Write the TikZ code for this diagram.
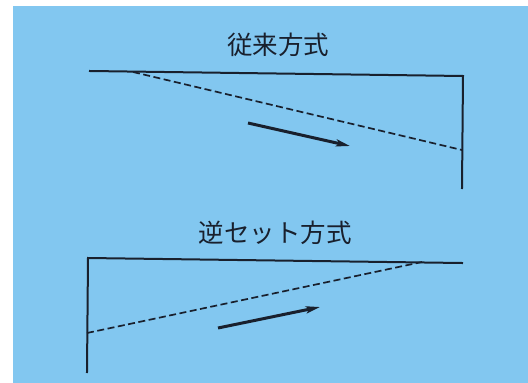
\documentclass[tikz,border=0pt]{standalone}
\usepackage{fontspec}
\newfontfamily\jp{Noto Sans CJK JP}
\usetikzlibrary{arrows.meta}
\definecolor{bg}{RGB}{130,199,240}
\definecolor{ink}{RGB}{25,32,45}
\tikzset{
  frame/.style={draw=ink, line width=2pt, line cap=rect, line join=miter},
  guide/.style={draw=ink, line width=1.7pt, dash pattern=on 7pt off 3.5pt},
  motion/.style={draw=ink, line width=3pt, -{Stealth[length=14pt,width=7pt,inset=3pt]}},
  title/.style={text=ink, font=\jp\fontsize{25.5pt}{30pt}\selectfont, inner sep=0pt}
}
\begin{document}
\begin{tikzpicture}[x=1pt,y=-1pt]
\useasboundingbox (0,0) rectangle (528,383);
\fill[white] (0,0) rectangle (528,383);
\fill[bg] (13,6) rectangle (528,383);
% top diagram
\node[title] (t1) at (278,45) {従来方式};
\coordinate (a1) at (90,71);
\coordinate (a2) at (463,76);
\coordinate (a3) at (462,188);
\coordinate (d1) at (133,72);
\coordinate (d2) at (462,150);
\coordinate (m1) at (248,123);
\coordinate (m2) at (350,146);
\draw[frame] (a1) -- (a2) -- (a3);
\draw[guide] (d1) -- (d2);
\draw[motion] (m1) -- (m2);
% bottom diagram
\node[title] (t2) at (275,233) {逆セット方式};
\coordinate (b1) at (87,372);
\coordinate (b2) at (88,258);
\coordinate (b3) at (462,263);
\coordinate (e1) at (87,333);
\coordinate (e2) at (422,262);
\coordinate (n1) at (218,328);
\coordinate (n2) at (320,307);
\draw[frame] (b1) -- (b2) -- (b3);
\draw[guide] (e1) -- (e2);
\draw[motion] (n1) -- (n2);
\end{tikzpicture}
\end{document}
